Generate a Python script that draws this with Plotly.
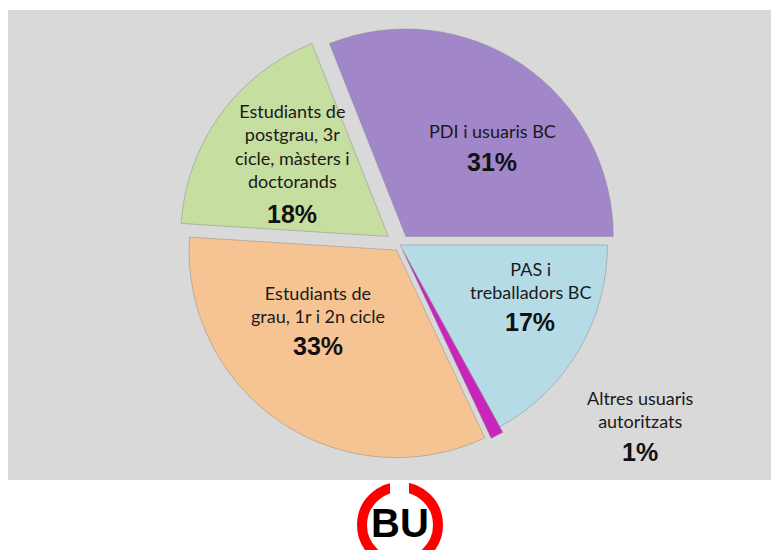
import plotly.graph_objects as go

# ---- data ----
categories = ["PDI i usuaris BC", "PAS i treballadors BC", "Altres usuaris autoritzats",
              "Estudiants de grau, 1r i 2n cicle",
              "Estudiants de postgrau, 3r cicle, màsters i doctorands"]
label_lines = ["PDI i usuaris BC", "PAS i<br>treballadors BC", "Altres usuaris<br>autoritzats",
               "Estudiants de<br>grau, 1r i 2n cicle",
               "Estudiants de<br>postgrau, 3r<br>cicle, màsters i<br>doctorands"]
values = [31, 17, 1, 33, 18]
colors = ["#a286ca", "#b5dce6", "#c925bd", "#f6c493", "#c6de9f"]
pulls = [0.05, 0.0, 0.03, 0.03, 0.07]

# the page body adds an 8px margin; the figure is sized to fill the rest of the window
OFF = 8
W, H = 779 - OFF, 550 - OFF


def px(x):
    return (x - OFF) / W


def py(y):
    return 1 - (y - OFF) / H


fig = go.Figure()
fig.add_trace(go.Pie(
    labels=categories, values=values, sort=False, direction="clockwise",
    rotation=-21.6, pull=pulls, textinfo="none", hoverinfo="label+percent",
    marker=dict(colors=colors, line=dict(color="#8a8a8a", width=0.5)),
    domain=dict(x=[px(178), px(622)], y=[py(470), py(20)]),
    showlegend=False,
))

# label positions (pixel centres) for name text and percentage
name_pos = [(492, 131), (530, 280), (640, 410), (318, 304), (292, 146)]
pct_pos = [(492, 162), (530, 322), (640, 452), (318, 346), (292, 214)]

annotations = []
for i, name in enumerate(label_lines):
    annotations.append(dict(
        x=px(name_pos[i][0]), y=py(name_pos[i][1]), xref="paper", yref="paper",
        xanchor="center", yanchor="middle",
        text=name, showarrow=False, align="center",
        font=dict(family="Lato", size=18, color="#1a1a1a")))
    annotations.append(dict(
        x=px(pct_pos[i][0]), y=py(pct_pos[i][1]), xref="paper", yref="paper",
        xanchor="center", yanchor="middle",
        text="<b>%d%%</b>" % values[i], showarrow=False,
        font=dict(family="Liberation Sans", size=25, color="#111111")))

# BU logo text
annotations.append(dict(x=px(400), y=py(523), xref="paper", yref="paper",
                        xanchor="center", yanchor="middle",
                        text="<b>BU</b>", showarrow=False,
                        font=dict(family="Liberation Sans", size=40, color="#000000")))

shapes = [
    # grey panel
    dict(type="rect", xref="paper", yref="paper", x0=px(8), x1=1.0, y0=py(480), y1=py(10),
         fillcolor="#d9d9d9", line=dict(width=0), layer="below"),
    # logo ring
    dict(type="circle", xref="paper", yref="paper", x0=px(362), x1=px(438),
         y0=py(563), y1=py(487), line=dict(color="#ff0000", width=10), layer="above"),
    # gaps in the ring (top and bottom)
    dict(type="rect", xref="paper", yref="paper", x0=px(390), x1=px(409),
         y0=py(500), y1=py(480.5), fillcolor="#ffffff", line=dict(width=0), layer="above"),
    dict(type="rect", xref="paper", yref="paper", x0=px(390), x1=px(409),
         y0=py(575), y1=py(545), fillcolor="#ffffff", line=dict(width=0), layer="above"),
]

fig.update_layout(
    width=W, height=H, margin=dict(l=0, r=0, t=0, b=0),
    paper_bgcolor="#ffffff", plot_bgcolor="#ffffff",
    annotations=annotations, shapes=shapes,
)

fig.write_html("out.html")
